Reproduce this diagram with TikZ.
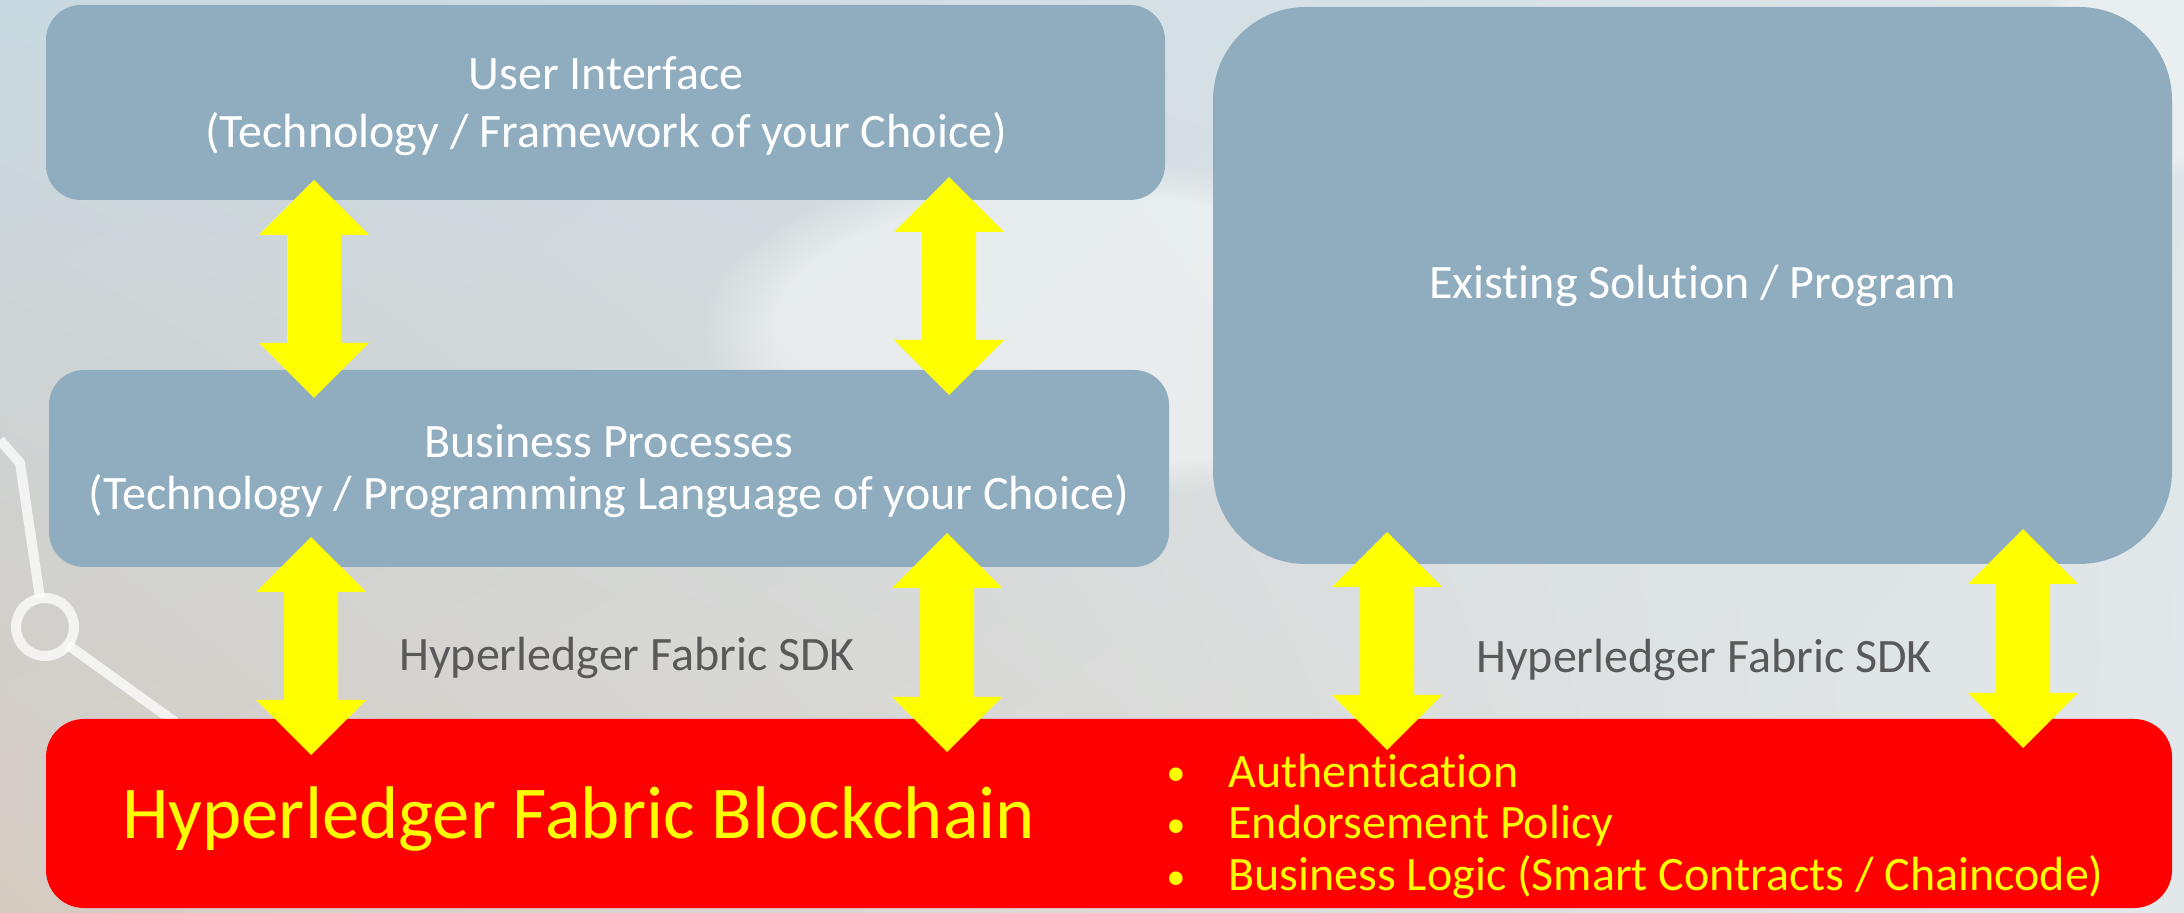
\documentclass[tikz,border=0pt]{standalone}
\usepackage{fontspec}
\setmainfont[Ligatures={NoCommon}]{Carlito}
\usetikzlibrary{calc,fadings,shadings}
\definecolor{boxc}{RGB}{143,173,191}
\definecolor{bgUL}{RGB}{200,217,225}
\definecolor{bgUR}{RGB}{222,230,233}
\definecolor{bgLL}{RGB}{214,203,193}
\definecolor{bgLR}{RGB}{226,232,234}
\definecolor{sdkgrey}{RGB}{89,89,89}
\definecolor{hlred}{RGB}{255,0,0}
\definecolor{hlyel}{RGB}{255,255,0}
\newcommand\yarrow[2]{\fill[hlyel] (#1) -- ($(#1)+(55,55)$) -- ($(#1)+(27,55)$) -- ($(#2)+(27,-55)$) -- ($(#2)+(55,-55)$) -- (#2) -- ($(#2)+(-55,-55)$) -- ($(#2)+(-27,-55)$) -- ($(#1)+(-27,55)$) -- ($(#1)+(-55,55)$) -- cycle;}
\newcommand\smbullet{\raisebox{0.5pt}{\scalebox{0.8}{•}}}
\begin{document}
\begin{tikzpicture}[x=0.5pt,y=-0.5pt,
  blockbox/.style={fill=boxc, rounded corners=17.5pt, inner sep=0pt},
  boxtext/.style={text=white, inner sep=0pt, align=center},
  sdklabel/.style={text=sdkgrey, font=\fontsize{24}{28}\selectfont, anchor=base, inner sep=0pt},
  bulletline/.style={text=hlyel, font=\fontsize{24}{28}\selectfont, anchor=base west, inner sep=0pt},
  deco/.style={draw=white, opacity=0.75, line width=5pt}
]
\useasboundingbox (0,0) rectangle (2184,913);
% background
\shade[upper left=bgUL, upper right=bgUR, lower left=bgLL, lower right=bgLR] (0,0) rectangle (2184,913);
\fill[white, opacity=0.45, path fading=circle with fuzzy edge 20 percent] (1080,330) ellipse (380 and 170);
\fill[white, opacity=0.35, path fading=circle with fuzzy edge 20 percent] (2150,60) ellipse (120 and 120);
% decoration
\draw[deco] (0,440) -- (20,463) -- (40,598);
\draw[deco] (45,627) circle (29);
\draw[deco] (68,645) -- (175,722);
% boxes
\node[blockbox, minimum width=559.5pt, minimum height=97.5pt] (ui) at (605.5,102.5) {};
\node[blockbox, minimum width=560pt, minimum height=98.5pt] (bp) at (609,468.5) {};
\node[blockbox, rounded corners=46.5pt, minimum width=479.5pt, minimum height=278.5pt] (ex) at (1692.5,285.5) {};
\node[fill=hlred, rounded corners=19pt, minimum width=1063pt, minimum height=94.5pt, inner sep=0pt] (bc) at (1109,813.5) {};
% box texts
\node[boxtext, font=\fontsize{24}{29}\selectfont] (uit) at (606,106.5) {User Interface\\(Technology / Framework of your Choice)};
\node[boxtext, font=\fontsize{24}{26}\selectfont] (bpt) at (609,471.5) {Business Processes\\(Technology / Programming Language of your Choice)};
\node[boxtext, font=\fontsize{24}{28}\selectfont] (ext) at (1692.5,285.5) {Existing Solution / Program};
% texts
\node[text=hlyel, font=\fontsize{37.3}{42}\selectfont, anchor=base west, inner sep=0pt] (title) at (122,838) {Hyperledger Fabric Blockchain};
\node[bulletline] (b1) at (1166,787) {\makebox[31pt][l]{\smbullet}Authentication};
\node[bulletline] (b2) at (1166,838) {\makebox[31pt][l]{\smbullet}Endorsement Policy};
\node[bulletline] (b3) at (1166,890) {\makebox[31pt][l]{\smbullet}Business Logic (Smart Contracts / Chaincode)};
\node[sdklabel] (sdk1) at (627,671) {Hyperledger Fabric SDK};
\node[sdklabel] (sdk2) at (1704,673) {Hyperledger Fabric SDK};
% arrows
\coordinate (a1t) at (314,180); \coordinate (a1b) at (314,398);
\coordinate (a2t) at (949,177); \coordinate (a2b) at (949,395);
\coordinate (a3t) at (311,537); \coordinate (a3b) at (311,755);
\coordinate (a4t) at (947,533); \coordinate (a4b) at (947,752);
\coordinate (a5t) at (1387,532); \coordinate (a5b) at (1387,750);
\coordinate (a6t) at (2023,529); \coordinate (a6b) at (2023,748);
\yarrow{a1t}{a1b}
\yarrow{a2t}{a2b}
\yarrow{a3t}{a3b}
\yarrow{a4t}{a4b}
\yarrow{a5t}{a5b}
\yarrow{a6t}{a6b}
\end{tikzpicture}
\end{document}
